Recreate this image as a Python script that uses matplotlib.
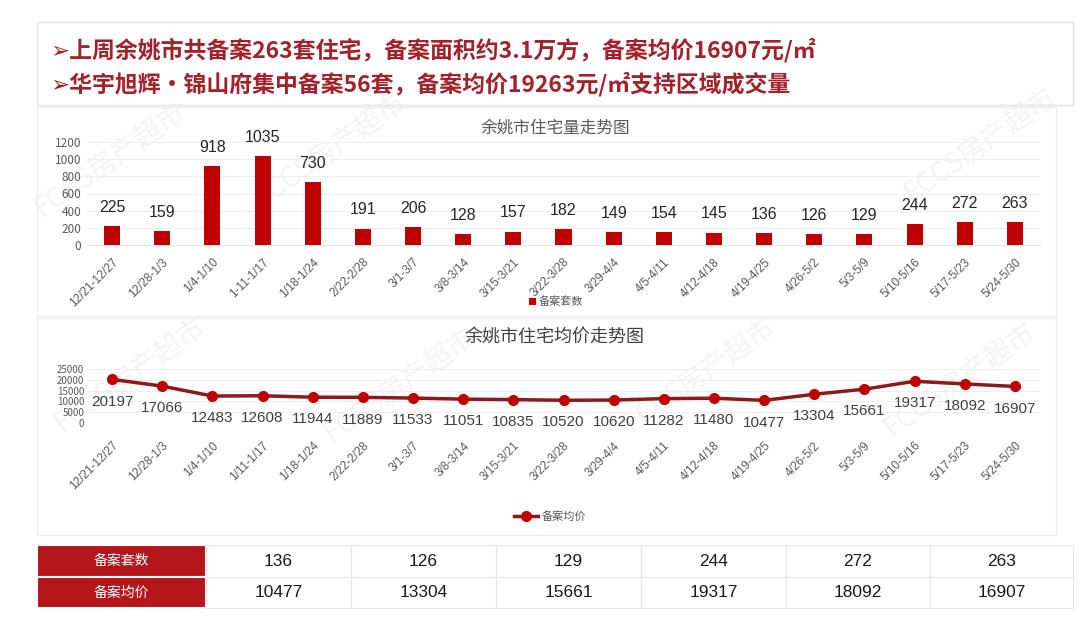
import matplotlib
matplotlib.use("Agg")
import matplotlib.pyplot as plt
from matplotlib.patches import Rectangle

# data
weeks = ["12/21-12/27", "12/28-1/3", "1/4-1/10", "1-11-1/17", "1/18-1/24", "2/22-2/28",
         "3/1-3/7", "3/8-3/14", "3/15-3/21", "3/22-3/28", "3/29-4/4", "4/5-4/11",
         "4/12-4/18", "4/19-4/25", "4/26-5/2", "5/3-5/9", "5/10-5/16", "5/17-5/23", "5/24-5/30"]
weeks_price = ["12/21-12/27", "12/28-1/3", "1/4-1/10", "1/11-1/17", "1/18-1/24", "2/22-2/28",
               "3/1-3/7", "3/8-3/14", "3/15-3/21", "3/22-3/28", "3/29-4/4", "4/5-4/11",
               "4/12-4/18", "4/19-4/25", "4/26-5/2", "5/3-5/9", "5/10-5/16", "5/17-5/23", "5/24-5/30"]
units = [225, 159, 918, 1035, 730, 191, 206, 128, 157, 182, 149, 154, 145, 136, 126, 129, 244, 272, 263]
prices = [20197, 17066, 12483, 12608, 11944, 11889, 11533, 11051, 10835, 10520, 10620,
          11282, 11480, 10477, 13304, 15661, 19317, 18092, 16907]
table_rows = ["备案套数", "备案均价"]
table_units = [136, 126, 129, 244, 272, 263]
table_prices = [10477, 13304, 15661, 19317, 18092, 16907]

header_lines = ["➢上周余姚市共备案263套住宅，备案面积约3.1万方，备案均价16907元/㎡",
                "➢华宇旭辉•锦山府集中备案56套，备案均价19263元/㎡支持区域成交量"]

CJK = ["Noto Sans CJK SC", "DejaVu Sans"]
NUM = ["Liberation Sans", "Noto Sans CJK SC"]
plt.rcParams["font.family"] = CJK

W, H = 1080, 635
fig = plt.figure(figsize=(W / 100, H / 100), dpi=100)
fig.patch.set_facecolor("white")


def fx(x):
    return x / W


def fy(y):
    return 1 - y / H


def box(x0, y0, x1, y1, **kw):
    fig.patches.append(Rectangle((fx(x0), fy(y1)), fx(x1) - fx(x0), fy(y0) - fy(y1),
                                 transform=fig.transFigure, **kw))


# panel frames
box(37, 22, 1073, 105, fill=False, edgecolor="#e3e3e3", lw=1)
box(37, 107, 1056, 316, fill=False, edgecolor="#ececec", lw=1)
box(37, 318, 1056, 535, fill=False, edgecolor="#ececec", lw=1)

# faint watermarks behind everything
for (x, y) in [(110, 160), (330, 150), (980, 145), (130, 375), (400, 385), (700, 375), (960, 380)]:
    fig.text(fx(x), fy(y), "FCCS房产超市", fontsize=20, color="#f3f3f3", rotation=35,
             ha="center", va="center", zorder=-5)

# header
for i, line in enumerate(header_lines):
    fig.text(fx(50), fy(50 + i * 34), line, fontsize=16.5, fontweight="bold",
             color="#a3212a", ha="left", va="center")

# bar chart
ax1 = fig.add_axes([fx(87), fy(245), fx(1040) - fx(87), fy(142) - fy(245)])
ax1.set_facecolor("none")
x = range(len(units))
ax1.bar(x, units, width=0.32, color="#c00000", label="备案套数", zorder=3)
for i, v in enumerate(units):
    ax1.annotate(str(v), (i, v), xytext=(0, 8), textcoords="offset points",
                 ha="center", va="bottom", fontsize=11.5, color="#262626", family=NUM)
ax1.set_xlim(-0.5, len(units) - 0.5)
ax1.set_ylim(0, 1200)
ax1.set_yticks(range(0, 1201, 200))
ax1.yaxis.grid(True, color="#eeeeee", lw=0.8)
ax1.set_axisbelow(True)
ax1.set_xticks(list(x))
ax1.set_xticklabels(weeks, rotation=45, ha="right", rotation_mode="anchor", family=NUM)
ax1.tick_params(axis="both", length=0, labelsize=8.5, labelcolor="#595959", pad=4)
ax1.tick_params(axis="x", pad=8)
for s in ax1.spines.values():
    s.set_visible(False)
ax1.spines["bottom"].set_visible(True)
ax1.spines["bottom"].set_color("#e6e6e6")
fig.text(fx(555), fy(128), "余姚市住宅量走势图", fontsize=12, color="#595959", ha="center", va="center")
ax1.legend(loc="center", bbox_to_anchor=(fx(556), fy(302)), bbox_transform=fig.transFigure,
           frameon=False, fontsize=8, handlelength=0.6, handleheight=0.6, handletextpad=0.2,
           labelcolor="#595959")

# line chart
ax2 = fig.add_axes([fx(87), fy(423), fx(1040) - fx(87), fy(369) - fy(423)])
ax2.set_facecolor("none")
ax2.plot(x, prices, color="#8b1a1a", lw=2.5, marker="o", markersize=7,
         markerfacecolor="#c00000", markeredgecolor="#c00000", label="备案均价", zorder=3)
for i, v in enumerate(prices):
    ax2.annotate(str(v), (i, v), xytext=(0, -16), textcoords="offset points",
                 ha="center", va="center", fontsize=11, color="#404040", family=NUM)
ax2.set_xlim(-0.5, len(prices) - 0.5)
ax2.set_ylim(0, 25000)
ax2.set_yticks(range(0, 25001, 5000))
ax2.yaxis.grid(True, color="#eeeeee", lw=0.8)
ax2.set_axisbelow(True)
ax2.set_xticks(list(x))
ax2.set_xticklabels(weeks_price, rotation=45, ha="right", rotation_mode="anchor", family=NUM)
ax2.tick_params(axis="both", length=0, labelsize=8.5, labelcolor="#595959", pad=3)
ax2.tick_params(axis="y", labelsize=7, pad=2)
ax2.tick_params(axis="x", pad=12)
for s in ax2.spines.values():
    s.set_visible(False)
fig.text(fx(555), fy(338), "余姚市住宅均价走势图", fontsize=13, color="#404040", ha="center", va="center")
ax2.legend(loc="center", bbox_to_anchor=(fx(550), fy(516)), bbox_transform=fig.transFigure,
           frameon=False, fontsize=8, handlelength=2.2, handletextpad=0.3, labelcolor="#595959")

# table
col_x = [37, 206, 351, 496, 641, 786, 930, 1073]
row_y = [545, 577, 608]
for r, label in enumerate(table_rows):
    y0, y1 = row_y[r], row_y[r + 1]
    box(col_x[0], y0, col_x[1], y1, facecolor="#b5161c", edgecolor="white", lw=1.5)
    fig.text(fx((col_x[0] + col_x[1]) / 2), fy((y0 + y1) / 2), label, fontsize=10,
             color="white", ha="center", va="center")
    vals = table_units if r == 0 else table_prices
    for c, v in enumerate(vals):
        box(col_x[c + 1], y0, col_x[c + 2], y1, facecolor="none", edgecolor="#e6e6e6", lw=0.8)
        fig.text(fx((col_x[c + 1] + col_x[c + 2]) / 2), fy((y0 + y1) / 2), str(v),
                 fontsize=12.5, color="#1a1a1a", ha="center", va="center", family=NUM)

fig.savefig("out.png", dpi=100)
